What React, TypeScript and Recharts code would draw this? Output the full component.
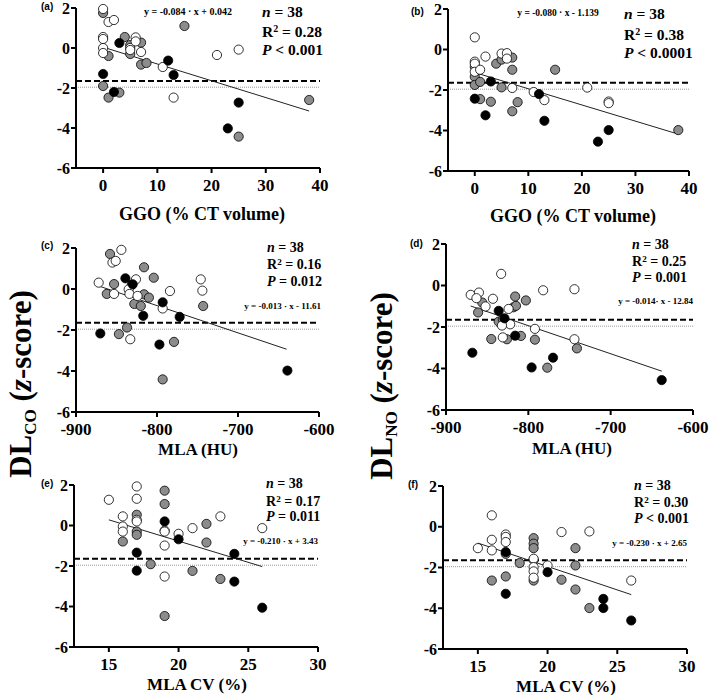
import React from 'react';
import { ScatterChart, Scatter, XAxis, YAxis, ReferenceLine } from 'recharts';

type Pt = [number, number];

// (a) DLCO vs GGO
const aOpen: Pt[] = [[0, 1.95], [1, 1.3], [2, 1.4], [0, 0.55], [0, 0.45], [0, 0], [0, -0.25], [5, 0], [5, -0.1], [6, 0.53], [6, 0.33], [7, -0.2], [11, -0.95], [13, -2.48], [21, -0.35], [25, -0.08]];
const aGrey: Pt[] = [[0, 1.75], [0, -1.9], [1, -0.4], [1, -2.48], [3, -2.23], [4, 0.55], [5, 0.15], [5, -0.3], [7, 0.27], [7, -0.83], [8, -0.75], [15, 1.1], [25, -4.43], [38, -2.6]];
const aBlack: Pt[] = [[0, -1.3], [2, -2.2], [3, 0.25], [12, -0.63], [13, -1.35], [23, -4.02], [25, -2.73]];

// (b) DLNO vs GGO
const bOpen: Pt[] = [[0, 0.6], [0, -0.6], [0, -0.7], [0, -1.1], [1, -1.0], [2, -0.35], [5, -0.2], [6, -0.18], [6, -0.45], [7, -1.9], [11, -2.1], [13, -2.5], [21, -1.88], [25, -2.57], [25, -2.65]];
const bGrey: Pt[] = [[0, -0.85], [0, -1.35], [0, -1.75], [1, -1.6], [1, -2.45], [3, -2.58], [4, -0.7], [5, -0.5], [5, -1.87], [7, -0.4], [7, -1.0], [7, -3.05], [8, -2.6], [15, -1.0], [38, -3.98]];
const bBlack: Pt[] = [[0, -2.43], [2, -3.25], [3, -1.58], [12, -2.2], [13, -3.52], [23, -4.55], [25, -3.98]];

// (c) DLCO vs MLA
const cOpen: Pt[] = [[-872, 0.31], [-855, 1.29], [-851, 1.37], [-844, 1.91], [-853, -0.24], [-835, -0.02], [-834, -0.24], [-826, 0.47], [-824, -0.34], [-833, -2.45], [-793, -0.95], [-784, -0.1], [-746, 0.47], [-744, -0.08]];
const cGrey: Pt[] = [[-858, 1.71], [-862, -0.24], [-853, 0.24], [-847, -2.2], [-837, -1.88], [-831, 0.2], [-828, -0.73], [-820, -0.83], [-816, 1.06], [-816, -0.26], [-810, -0.42], [-804, 0.55], [-793, -4.41], [-779, -2.58], [-743, -0.83]];
const cBlack: Pt[] = [[-870, -2.17], [-839, 0.52], [-830, 0.23], [-817, -1.31], [-793, -0.65], [-797, -2.71], [-772, -1.36], [-639, -3.98]];

// (d) DLNO vs MLA
const dOpen: Pt[] = [[-870, -0.45], [-833, 0.56], [-860, -0.34], [-863, -0.61], [-852, -1.01], [-843, -0.64], [-824, -1.13], [-822, -1.87], [-832, -1.93], [-831, -2.5], [-792, -2.09], [-782, -0.23], [-744, -2.59], [-744, -0.18]];
const dGrey: Pt[] = [[-861, -1.3], [-856, -0.82], [-845, -2.58], [-836, -1.74], [-831, -1.63], [-826, -2.59], [-818, -1.05], [-815, -0.98], [-816, -0.53], [-809, -2.43], [-803, -0.72], [-792, -2.61], [-777, -3.96], [-741, -3.03]];
const dBlack: Pt[] = [[-868, -3.24], [-836, -1.22], [-829, -1.58], [-816, -2.42], [-796, -3.95], [-770, -3.48], [-638, -4.56]];

// (e) DLCO vs MLA CV
const eOpen: Pt[] = [[15, 1.27], [16, 0.45], [16, -0.05], [16, -0.3], [17, 1.93], [17, 1.32], [17, 0.28], [17, 0.2], [19, -0.25], [19, -0.3], [19, -0.99], [19, -2.52], [20, -0.41], [21, -0.13], [23, 0.45], [26, -0.13]];
const eGrey: Pt[] = [[16, -0.79], [17, 0.53], [17, -0.3], [17, -0.46], [18, -1.91], [19, 1.72], [19, 1.06], [19, -4.47], [21, -2.24], [22, 0.08], [22, -0.84], [23, -2.64]];
const eBlack: Pt[] = [[17, -1.34], [17, -2.23], [19, 0.2], [20, -0.68], [24, -1.4], [24, -2.77], [26, -4.06]];

// (f) DLNO vs MLA CV
const fOpen: Pt[] = [[15, -1.05], [16, 0.56], [16, -0.64], [16, -1.16], [17, -0.38], [17, -0.5], [17, -0.75], [19, -1.57], [19, -1.98], [19, -2.19], [19, -2.5], [20, -1.9], [21, -0.26], [23, -0.23], [26, -2.64]];
const fGrey: Pt[] = [[16, -2.64], [17, -1.33], [17, -2.44], [18, -1.78], [19, -0.56], [19, -0.83], [19, -1.05], [19, -1.62], [19, -2.64], [21, -2.6], [22, -1.05], [22, -1.9], [22, -3.08], [23, -3.99]];
const fBlack: Pt[] = [[17, -1.24], [17, -3.29], [20, -2.23], [24, -3.54], [24, -3.99], [26, -4.6]];

// fitted lines: slope, intercept, x range
const aFit = { slope: -0.084, intercept: 0.042, from: 0, to: 38 };
const bFit = { slope: -0.08, intercept: -1.139, from: 0, to: 38 };
const cFit = { slope: -0.0133, intercept: -11.45, from: -872, to: -640 };
const dFit = { slope: -0.01353, intercept: -12.76, from: -870, to: -638 };
const eFit = { slope: -0.21, intercept: 3.43, from: 15, to: 26 };
const fFit = { slope: -0.23, intercept: 2.65, from: 15, to: 26 };

const ggoTicks = [0, 10, 20, 30, 40];
const mlaTicks = [-900, -800, -700, -600];
const cvTicks = [15, 20, 25, 30];
const zTicks = [-6, -4, -2, 0, 2];
const LLN = -1.645;
const Z196 = -1.96;

const SERIF = '"Liberation Serif", "Times New Roman", serif';
const SANS = '"Liberation Sans", Arial, sans-serif';

const PAD_L = 60;
const PAD_T = 10;
const PAD_R = 20;
const PAD_B = 50;

const xTickStyle = { fill: '#000', fontSize: 17, fontWeight: 'bold', fontFamily: SERIF };
const yTickStyle = { fill: '#000', fontSize: 16, fontWeight: 'bold', fontFamily: SERIF };
const axisStroke = { stroke: '#000', strokeWidth: 2 };

const dot = (fill: string) => (props: any) => (
  <circle cx={props.cx} cy={props.cy} r={4.6} fill={fill} stroke='#000' strokeWidth={0.8} />
);

const toObj = (pts: Pt[]) => pts.map(([x, y]) => ({ x, y }));

interface Fit {
  slope: number;
  intercept: number;
  from: number;
  to: number;
}

interface PanelProps {
  box: [number, number, number, number];
  xDomain: [number, number];
  xTicks: number[];
  open: Pt[];
  grey: Pt[];
  black: Pt[];
  fit: Fit;
}

const Panel: React.FC<PanelProps> = ({ box, xDomain, xTicks, open, grey, black, fit }) => {
  const [x0, x1, y0, y1] = box;
  return (
    <div style={{ position: 'absolute', left: x0 - PAD_L, top: y0 - PAD_T }}>
      <ScatterChart
        width={x1 - x0 + PAD_L + PAD_R}
        height={y1 - y0 + PAD_T + PAD_B}
        margin={{ top: PAD_T, right: PAD_R, left: 20, bottom: 20 }}
        style={{ overflow: 'visible' }}
      >
        <XAxis
          type='number'
          dataKey='x'
          domain={xDomain}
          ticks={xTicks}
          height={30}
          tickSize={5}
          tickMargin={6}
          axisLine={axisStroke}
          tickLine={axisStroke}
          tick={xTickStyle}
        />
        <YAxis
          type='number'
          dataKey='y'
          domain={[-6, 2]}
          ticks={zTicks}
          width={40}
          tickSize={5}
          tickMargin={1}
          axisLine={axisStroke}
          tickLine={axisStroke}
          tick={yTickStyle}
        />
        <ReferenceLine y={Z196} stroke='#999' strokeWidth={1} strokeDasharray='1 1' />
        <ReferenceLine y={LLN} stroke='#000' strokeWidth={2} strokeDasharray='6 3' />
        <ReferenceLine
          segment={[
            { x: fit.from, y: fit.slope * fit.from + fit.intercept },
            { x: fit.to, y: fit.slope * fit.to + fit.intercept },
          ]}
          stroke='#222'
          strokeWidth={1}
        />
        <Scatter data={toObj(grey)} shape={dot('#8c8c8c')} isAnimationActive={false} />
        <Scatter data={toObj(open)} shape={dot('#fff')} isAnimationActive={false} />
        <Scatter data={toObj(black)} shape={dot('#000')} isAnimationActive={false} />
      </ScatterChart>
    </div>
  );
};

const T: React.FC<{ x: number; y: number; size: number; anchor?: 'start' | 'middle' | 'end'; font?: string; children: React.ReactNode }> = ({
  x,
  y,
  size,
  anchor = 'start',
  font = SERIF,
  children,
}) => {
  const tx = anchor === 'start' ? '0' : anchor === 'middle' ? '-50%' : '-100%';
  return (
    <div
      style={{
        position: 'absolute',
        left: x,
        top: y,
        transform: `translate(${tx}, -50%)`,
        fontFamily: font,
        fontSize: size,
        fontWeight: 'bold',
        lineHeight: 1,
        whiteSpace: 'nowrap',
        color: '#000',
      }}
    >
      {children}
    </div>
  );
};

const Stats: React.FC<{ x: number; ys: number[]; size: number; r2: string; p: string }> = ({ x, ys, size, r2, p }) => (
  <>
    <T x={x} y={ys[0]} size={size}>
      <i>n</i> = 38
    </T>
    <T x={x} y={ys[1]} size={size}>
      R<sup style={{ fontSize: '0.65em', verticalAlign: '0.5em' }}>2</sup> = {r2}
    </T>
    <T x={x} y={ys[2]} size={size}>
      <i>P</i> {p}
    </T>
  </>
);

const YTitle: React.FC<{ x: number; y: number; sub: string }> = ({ x, y, sub }) => (
  <div
    style={{
      position: 'absolute',
      left: x,
      top: y,
      transform: 'translate(-50%, -50%) rotate(-90deg)',
      fontFamily: SERIF,
      fontWeight: 'bold',
      fontSize: 31,
      lineHeight: 1,
      whiteSpace: 'nowrap',
    }}
  >
    DL<span style={{ fontSize: '0.55em', verticalAlign: '-0.25em' }}>{sub}</span> (<i>z</i>-score)
  </div>
);

export default function App() {
  return (
    <div style={{ position: 'absolute', left: 0, top: 0, width: 709, height: 695, background: '#fff', overflow: 'hidden' }}>
      <Panel box={[76, 320, 8, 168]} xDomain={[-5, 40]} xTicks={ggoTicks} open={aOpen} grey={aGrey} black={aBlack} fit={aFit} />
      <Panel box={[448, 689, 9, 171]} xDomain={[-5, 40]} xTicks={ggoTicks} open={bOpen} grey={bGrey} black={bBlack} fit={bFit} />
      <Panel box={[76, 319, 248, 412]} xDomain={[-900, -600]} xTicks={mlaTicks} open={cOpen} grey={cGrey} black={cBlack} fit={cFit} />
      <Panel box={[446, 693, 244, 410]} xDomain={[-900, -600]} xTicks={mlaTicks} open={dOpen} grey={dGrey} black={dBlack} fit={dFit} />
      <Panel box={[74, 318, 485, 647]} xDomain={[12.5, 30]} xTicks={cvTicks} open={eOpen} grey={eGrey} black={eBlack} fit={eFit} />
      <Panel box={[443, 687, 486, 649]} xDomain={[12.5, 30]} xTicks={cvTicks} open={fOpen} grey={fGrey} black={fBlack} fit={fFit} />

      <T x={41} y={7} size={10} font={SANS}>(a)</T>
      <T x={411} y={12} size={10} font={SANS}>(b)</T>
      <T x={41} y={246} size={10} font={SANS}>(c)</T>
      <T x={410} y={244} size={10} font={SANS}>(d)</T>
      <T x={41} y={484} size={10} font={SANS}>(e)</T>
      <T x={408} y={485} size={10} font={SANS}>(f)</T>

      <T x={188} y={12} size={10} anchor='middle'>y = -0.084 · x + 0.042</T>
      <T x={558} y={14} size={9.5} anchor='middle'>y = -0.080 · x - 1.139</T>
      <T x={321} y={306} size={9} anchor='end'>y = -0.013 · x - 11.61</T>
      <T x={693} y={301} size={9} anchor='end'>y = -0.014· x - 12.84</T>
      <T x={318} y={541} size={9} anchor='end'>y = -0.210 · x + 3.43</T>
      <T x={687} y={543} size={9} anchor='end'>y = -0.230 · x + 2.65</T>

      <Stats x={262} ys={[12, 32, 50]} size={15.5} r2='0.28' p='< 0.001' />
      <Stats x={624} ys={[14, 35, 53]} size={15.5} r2='0.38' p='< 0.0001' />
      <Stats x={267} ys={[248, 265, 282]} size={14} r2='0.16' p='= 0.012' />
      <Stats x={632} ys={[245, 262, 278]} size={14} r2='0.25' p='= 0.001' />
      <Stats x={266} ys={[484, 502, 517]} size={14} r2='0.17' p='= 0.011' />
      <Stats x={634} ys={[486, 503, 519]} size={14} r2='0.30' p='< 0.001' />

      <T x={202} y={214} size={18} anchor='middle'>GGO (% CT volume)</T>
      <T x={573} y={216} size={18} anchor='middle'>GGO (% CT volume)</T>
      <T x={198} y={449} size={17} anchor='middle'>MLA (HU)</T>
      <T x={572} y={448} size={17} anchor='middle'>MLA (HU)</T>
      <T x={197} y={684} size={17} anchor='middle'>MLA CV (%)</T>
      <T x={566} y={686} size={17} anchor='middle'>MLA CV (%)</T>

      <YTitle x={22} y={384} sub='CO' />
      <YTitle x={383} y={386} sub='NO' />
    </div>
  );
}
